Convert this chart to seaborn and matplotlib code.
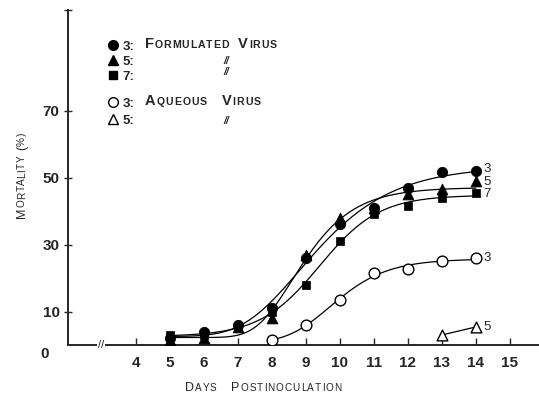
import numpy as np
import pandas as pd
import seaborn as sns
import matplotlib
matplotlib.use("Agg")
import matplotlib.pyplot as plt
from matplotlib.lines import Line2D

# data (mortality %, by day postinoculation)
days_form = [5, 6, 7, 8, 9, 10, 11, 12, 13, 14]
form_3 = [2, 4, 6, 11, 26, 36, 41, 47, 51.5, 52]
form_5 = [1.5, 2, 5.5, 8, 27, 38, 41, 45, 46.5, 49]
form_7 = [3, 3, 5.5, 10, 18, 31, 39, 41.5, 44, 45.5]
days_aq3 = [8, 9, 10, 11, 12, 13, 14]
aq_3 = [1.5, 6, 13.5, 21.5, 22.7, 25, 26]
days_aq5 = [13, 14]
aq_5 = [3, 5.4]
x_ticks = [4, 5, 6, 7, 8, 9, 10, 11, 12, 13, 14, 15]
y_ticks = [10, 30, 50, 70]

sns.set_style("ticks")
plt.rcParams['font.family'] = ['Liberation Sans', 'DejaVu Sans']

W, H = 539, 398
fig = plt.figure(figsize=(W / 100, H / 100), dpi=100)
ax = fig.add_axes([68 / W, 53 / H, 471 / W, 335 / H])


def growth_curve(x, y, xs):
    # least squares fit of a Richards growth curve
    # y = b + L * (1 + nu * exp(-k (x - x0)))^(-1/nu), grid search on k, x0, nu
    x = np.asarray(x, float)
    y = np.asarray(y, float)
    best = None
    for nu in (0.1, 0.25, 0.4, 0.6, 0.8, 1.0):
        for k in np.linspace(0.3, 2.5, 56):
            for x0 in np.linspace(6, 12, 61):
                f = (1 + nu * np.exp(-k * (x - x0))) ** (-1 / nu)
                A = np.column_stack([np.ones_like(f), f])
                coef = np.linalg.lstsq(A, y, rcond=None)[0]
                err = ((A @ coef - y) ** 2).sum()
                if best is None or err < best[0]:
                    best = (err, nu, k, x0, coef)
    _, nu, k, x0, (b, L) = best
    return b + L * (1 + nu * np.exp(-k * (xs - x0))) ** (-1 / nu)


xs_f = np.linspace(5, 14, 200)
for vals in (form_3, form_5, form_7):
    sns.lineplot(x=xs_f, y=growth_curve(days_form, vals, xs_f), ax=ax,
                 color="black", lw=0.9, zorder=2)
xs_a = np.linspace(8, 14, 200)
sns.lineplot(x=xs_a, y=growth_curve(days_aq3, aq_3, xs_a), ax=ax,
             color="black", lw=0.9, zorder=2)
sns.lineplot(x=days_aq5, y=aq_5, ax=ax, color="black", lw=0.9, zorder=2)

sns.scatterplot(x=days_form, y=form_3, ax=ax, marker="o", s=55, color="black",
                edgecolor="black", zorder=3)
sns.scatterplot(x=days_form, y=form_5, ax=ax, marker="^", s=60, color="black",
                edgecolor="black", zorder=3)
sns.scatterplot(x=days_form, y=form_7, ax=ax, marker="s", s=40, color="black",
                edgecolor="black", zorder=3)
sns.scatterplot(x=days_aq3, y=aq_3, ax=ax, marker="o", s=60, facecolor="white",
                edgecolor="black", linewidth=1, zorder=3)
sns.scatterplot(x=days_aq5, y=aq_5, ax=ax, marker="^", s=60, facecolor="white",
                edgecolor="black", linewidth=1, zorder=3)

# series labels at the end of each curve
for lab, vals, dy in (("3", form_3, 0.4), ("5", form_5, -0.4), ("7", form_7, -0.3),
                      ("3", aq_3, 0), ("5", aq_5, 0)):
    ax.text(14.22, vals[-1] + dy, lab, fontsize=9.5, va="center", ha="left")

ax.set_xlim(2, 2 + 471 / 34.0)
ax.set_ylim(0, 100)
ax.set_xticks(x_ticks)
ax.set_yticks(y_ticks + [100])
ax.set_yticklabels([str(v) for v in y_ticks] + [""])
ax.tick_params(axis="x", direction="in", length=5, width=1, pad=8, labelsize=11)
ax.tick_params(axis="y", direction="inout", length=6, width=1, pad=3, labelsize=11)
for t in ax.get_xticklabels() + ax.get_yticklabels():
    t.set_fontweight("bold")
sns.despine(ax=ax)
for s in ("left", "bottom"):
    ax.spines[s].set_linewidth(1.4)
ax.text(1.32, -2.6, "0", fontsize=11, fontweight="bold", ha="center", va="center",
        clip_on=False)
# axis break
ax.text(2.97, 0, "//", fontsize=8, ha="center", va="center",
        bbox=dict(facecolor="white", edgecolor="none", pad=0.5), clip_on=False)
ax.set_xlabel("")
ax.set_ylabel("")

renderer = fig.canvas.get_renderer()


def smallcaps(xp, yp, words, big, small, gap=5, track=1.0, weight="normal",
              vertical=False):
    # draws small-capital text letter by letter, positions in figure pixels
    pos = yp if vertical else xp
    for w in words:
        for i, ch in enumerate(w):
            size = big if i == 0 else small
            if vertical:
                t = fig.text(xp / W, 1 - pos / H, ch, fontsize=size, rotation=90,
                             rotation_mode="anchor", ha="left", va="baseline",
                             fontweight=weight)
                pos -= t.get_window_extent(renderer).height + track
            else:
                t = fig.text(pos / W, 1 - yp / H, ch, fontsize=size,
                             ha="left", va="baseline", fontweight=weight)
                pos += t.get_window_extent(renderer).width + track
        pos += -gap if vertical else gap


smallcaps(185, 391, ["DAYS", "POSTINOCULATION"], 9, 7.2, gap=14, track=0.9)
smallcaps(25, 218, ["MORTALITY", "(%)"], 9, 7.2, gap=5, track=0.4, vertical=True)

# legend
def proxy(marker, face, size):
    return Line2D([], [], ls="none", marker=marker, markersize=size,
                  markerfacecolor=face, markeredgecolor="black", markeredgewidth=1)


leg1 = ax.legend([proxy("o", "black", 7), proxy("^", "black", 7.5), proxy("s", "black", 6)],
                 ["3:", "5:", "7:"], loc="upper left", frameon=False,
                 prop=dict(size=9.5, weight="bold"),
                 bbox_to_anchor=(100 / W, 1 - 34 / H), bbox_transform=fig.transFigure,
                 borderpad=0, handlelength=0.9, handletextpad=0.3, labelspacing=0.2)
ax.add_artist(leg1)
ax.legend([proxy("o", "white", 7), proxy("^", "white", 7.5)],
          ["3:", "5:"], loc="upper left", frameon=False,
          prop=dict(size=9.5, weight="bold"),
          bbox_to_anchor=(100 / W, 1 - 91 / H), bbox_transform=fig.transFigure,
          borderpad=0, handlelength=0.9, handletextpad=0.3, labelspacing=0.35)

smallcaps(145, 48, ["FORMULATED", "VIRUS"], 10.5, 7.6, gap=9, track=0.8, weight="bold")
smallcaps(145, 105, ["AQUEOUS", "VIRUS"], 10.5, 7.6, gap=14, track=1.0, weight="bold")
for yp in (61, 72, 121):
    fig.text(226 / W, 1 - yp / H, "//", fontsize=7.5, ha="center", va="center",
             style="italic", fontweight="bold")

fig.savefig("out.png", dpi=100)
